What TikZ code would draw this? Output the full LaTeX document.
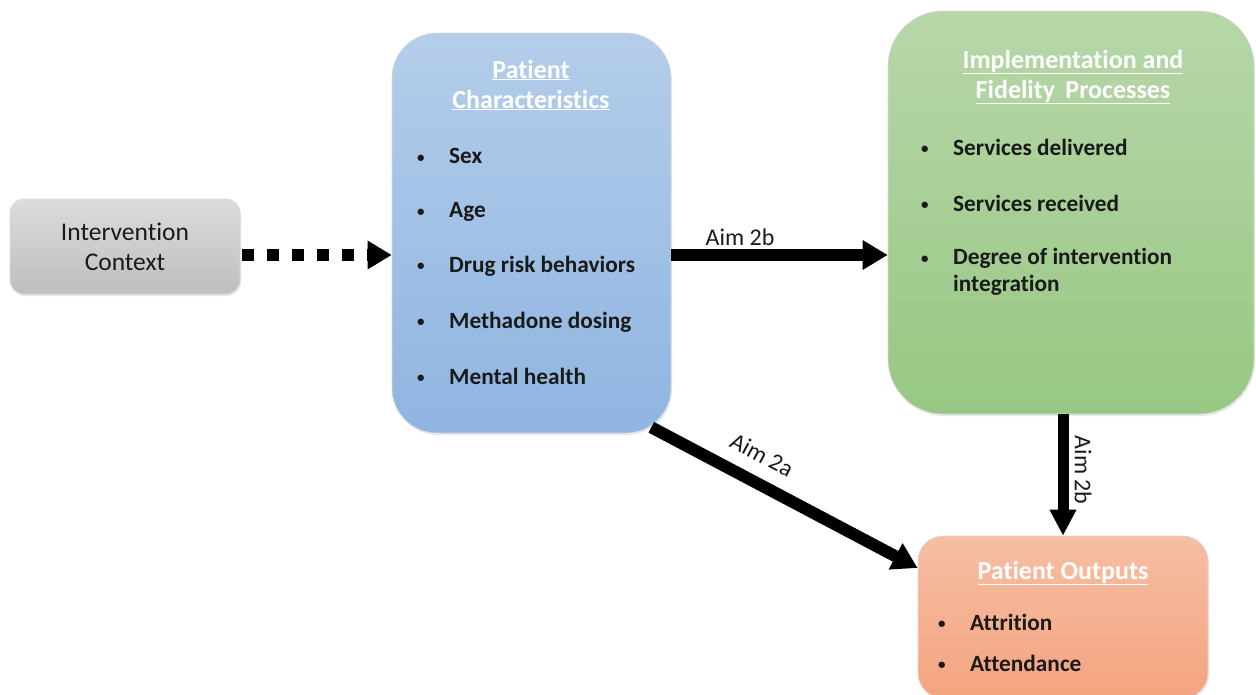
\documentclass[tikz,border=0pt]{standalone}
\usepackage{fontspec}
\setmainfont{Carlito}[Ligatures={NoCommon,NoRare,NoContextual}]
\usetikzlibrary{arrows.meta,shadows}
\definecolor{gTop}{HTML}{DCDCDC}
\definecolor{gBot}{HTML}{BEBEBE}
\definecolor{bTop}{HTML}{B4CDEA}
\definecolor{bBot}{HTML}{8FB5E1}
\definecolor{grTop}{HTML}{B7D7A9}
\definecolor{grBot}{HTML}{98C783}
\definecolor{sTop}{HTML}{F6BEA4}
\definecolor{sBot}{HTML}{F4A47F}
\definecolor{txt}{HTML}{1A1A1A}
\tikzset{
  box/.style={rectangle, draw=white!85!black, line width=0.6pt, inner sep=0pt,
    drop shadow={opacity=0.18, shadow xshift=1pt, shadow yshift=-2pt}},
  ttl/.style={font=\fontsize{26}{30}\selectfont\bfseries, text=white, align=center, inner sep=0pt},
  itm/.style={font=\fontsize{23.3}{27}\selectfont\bfseries, text=txt, anchor=west, align=left, inner sep=0pt},
  lbl/.style={font=\fontsize{24}{26}\selectfont, text=txt, inner sep=0pt},
  bigarrow/.style={line width=12pt, -{Triangle[length=25pt,width=28pt]}},
}
\newcommand{\bl}[1]{\makebox[32pt][l]{\raisebox{1.5pt}{\fontsize{15}{15}\selectfont\textbullet}}#1}
\begin{document}
\begin{tikzpicture}[x=1pt,y=-1pt]
\useasboundingbox (0,0) rectangle (1256,694);

% boxes
\node[box, rounded corners=14pt, top color=gTop, bottom color=gBot, minimum width=230pt, minimum height=95pt,
  font=\fontsize{25.5}{30}\selectfont, text=txt, align=center] (ctx) at (125,246.5) {\raisebox{-2pt}{Intervention}\\\raisebox{-2pt}{Context}};
\node[box, rounded corners=45pt, top color=bTop, bottom color=bBot, minimum width=279pt, minimum height=400pt] (pc) at (531.5,233) {};
\node[box, rounded corners=55pt, top color=grTop, bottom color=grBot, minimum width=366pt, minimum height=403pt] (ipf) at (1071,212.5) {};
\node[box, rounded corners=25pt, top color=sTop, bottom color=sBot, minimum width=290pt, minimum height=162pt] (po) at (1063,617) {};

% titles
\node[ttl] (pct) at (531,85) {\underline{Patient}\\\underline{Characteristics}};
\node[ttl] (ipft) at (1073,77) {\underline{Implementation and}\\\underline{Fidelity\, Processes}};
\node[ttl] (pot) at (1063,573) {\underline{Patient Outputs}};

% items
\node[itm] (pc1) at (417,156) {\bl{Sex}};
\node[itm] (pc2) at (417,212) {\bl{Age}};
\node[itm] (pc3) at (417,266) {\bl{Drug risk behaviors}};
\node[itm] (pc4) at (417,322) {\bl{Methadone dosing}};
\node[itm] (pc5) at (417,376) {\bl{Mental health}};

\node[itm] (ip1) at (921,147) {\bl{Services delivered}};
\node[itm] (ip2) at (921,203) {\bl{Services received}};
\node[itm] (ip3) at (921,272) {\bl{Degree of intervention}\\\hspace*{32pt}integration};

\node[itm] (po1) at (938,622) {\bl{Attrition}};
\node[itm] (po2) at (938,663) {\bl{Attendance}};

% connectors
\draw[line width=12pt, dash pattern=on 12pt off 13pt, -{Triangle[length=24pt,width=27pt]}]
  ([xshift=2pt,yshift=-8.5pt]ctx.east) -- ([yshift=-22pt]pc.west);
\draw[bigarrow] ([yshift=-22pt]pc.east) -- ([yshift=-42.5pt]ipf.west);
\node[lbl] (l1) at (740,237) {Aim 2b};
\draw[bigarrow] ([xshift=-20pt,yshift=6pt]pc.south east) -- ([yshift=49pt]po.west);
\node[lbl, rotate=-28] (l2) at (762,455) {Aim 2a};
\draw[line width=11pt, -{Triangle[length=26pt,width=25pt]}] (po.north |- ipf.south) -- (po.north);
\node[lbl, rotate=-90] (l3) at (1083,470) {Aim 2b};
\end{tikzpicture}
\end{document}
